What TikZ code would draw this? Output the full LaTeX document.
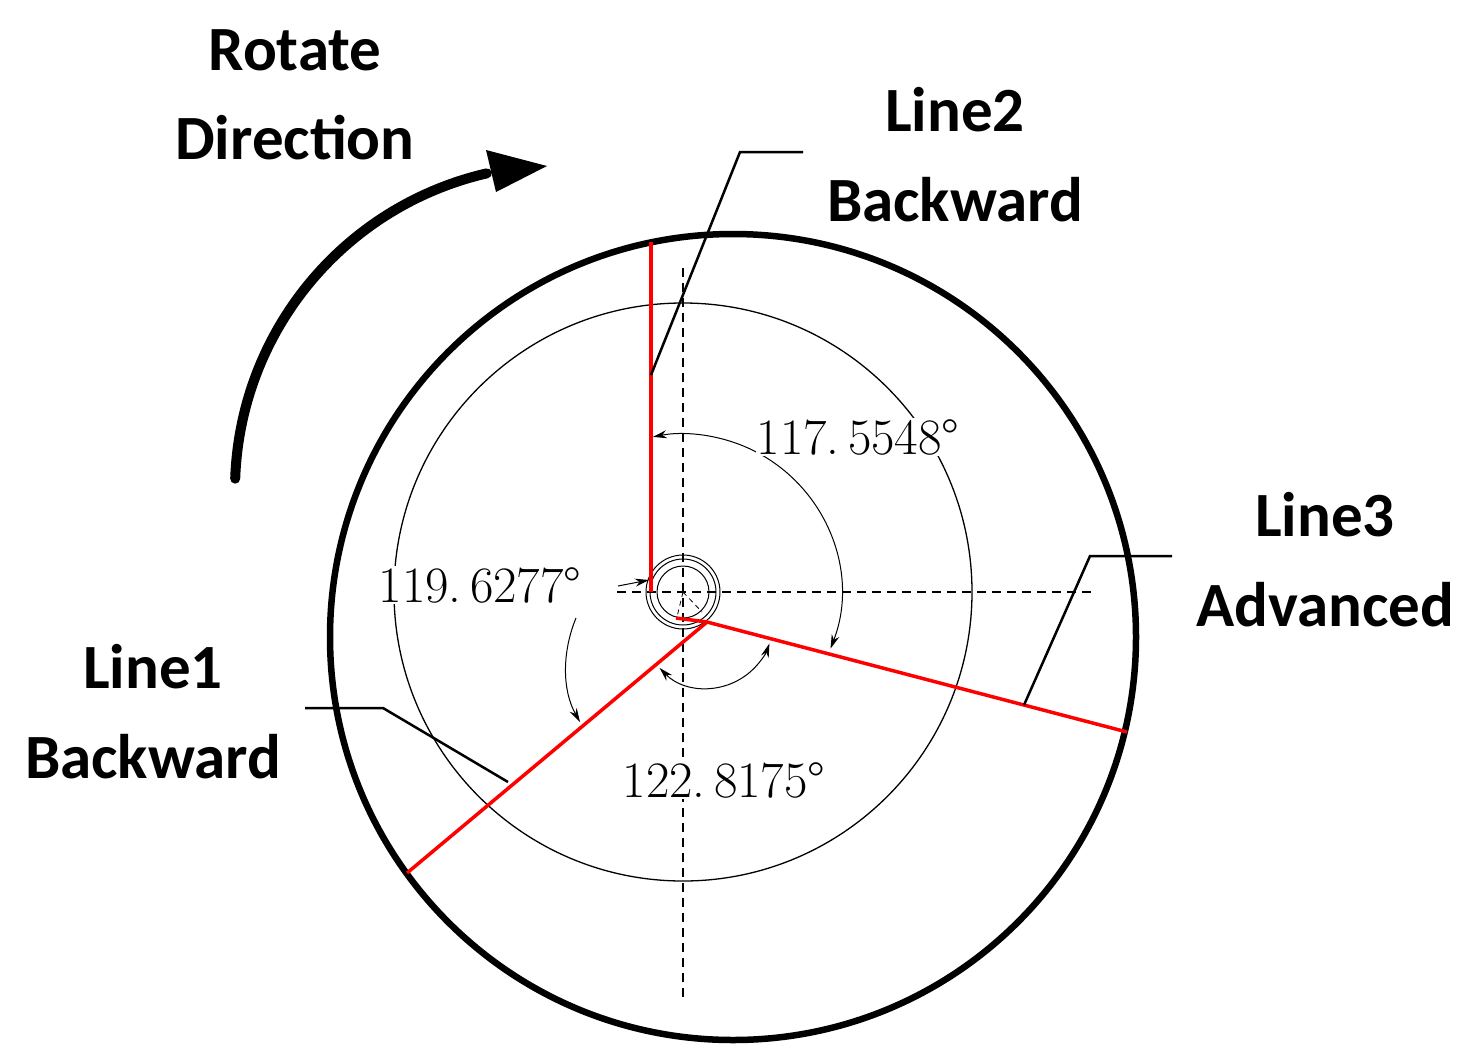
\documentclass[tikz,border=0pt]{standalone}
\usepackage{fontspec}
\setsansfont{Carlito}
\usetikzlibrary{arrows.meta}
\begin{document}
\begin{tikzpicture}[x=1pt,y=-1pt,
  lbl/.style={font=\sffamily\bfseries\fontsize{63}{66}\selectfont,inner sep=0pt},
  ang/.style={font=\fontsize{51}{54}\selectfont,inner sep=1pt,fill=white},
  redl/.style={red,line width=3.5pt},
  lead/.style={black,line width=2.5pt},
  dim/.style={black,line width=1pt,-{Stealth[length=14pt,width=8pt]}},
  dimb/.style={black,line width=1pt,{Stealth[length=14pt,width=8pt]}-{Stealth[length=14pt,width=8pt]}},
  dsh/.style={black,line width=1.3pt,dash pattern=on 9pt off 6pt}]
\useasboundingbox (0,0) rectangle (1474,1063);
\coordinate (C) at (733,637);
\coordinate (O) at (683,592);
\coordinate (J) at (707,622);
% circles
\draw[line width=6.5pt] (C) circle[radius=403];
\draw[line width=1.3pt] (O) circle[radius=289];
\foreach \r in {37,33,26} \draw[line width=1pt] (O) circle[radius=\r];
% dashed center lines
\draw[dsh] (617,592) -- (1093,592);
\draw[dsh] (683,268) -- (683,1000);
\draw[black,line width=0.8pt,dash pattern=on 5pt off 4pt] (O) -- (677,617) (O) -- (702,612);
% red lines
\coordinate (L2a) at (651,242); \coordinate (L2b) at (651,592);
\coordinate (L3b) at (1127,732);
\coordinate (L1b) at (407,873);
\coordinate (S) at (676,618);
\draw[black,line width=1pt] (J) -- (L3b) (J) -- (L1b);
\draw[redl] (L2a) -- (L2b);
\draw[redl] (S) -- (J) -- (L3b);
\draw[redl] (J) -- (L1b);
% leaders
\coordinate (P2) at (651,375); \coordinate (Q2) at (740,152); \coordinate (R2) at (803,152);
\draw[lead] (P2) -- (Q2) -- (R2);
\coordinate (P3) at (1024,705); \coordinate (Q3) at (1090,556); \coordinate (R3) at (1172,556);
\draw[lead] (P3) -- (Q3) -- (R3);
\coordinate (P1) at (508,782); \coordinate (Q1) at (383,708); \coordinate (R1) at (305,708);
\draw[lead] (P1) -- (Q1) -- (R1);
% angle dimensions
\coordinate (A1) at (576,618); \coordinate (A2) at (580,722);
\draw[dimb] ([shift={(21:158)}]O) arc[start angle=21,end angle=-101,radius=158];
\draw[dim] (A1) .. controls (562,652) and (562,690) .. (A2);
\draw[dim] (618,586) -- (649,580);
\draw[dimb] ([shift={(-224:66)}]J) arc[start angle=-224,end angle=-341,radius=66];
\node[ang] (a1) at (858,437) {117.\,5548°};
\node[ang] (a2) at (480,585) {119.\,6277°};
\node[ang] (a3) at (724,780) {122.\,8175°};
% rotate arrow
\coordinate (RC) at (560,490);
\draw[line width=10pt,line cap=round] ([shift={(-178:325)}]RC) arc[start angle=-178,end angle=-103,radius=325];
\fill (547,166) -- (486,150) -- (496,192) -- cycle;
% labels
\node[lbl] (t1) at (295,50) {Rotate};
\node[lbl] (t2) at (295,138) {Direction};
\node[lbl] (t3) at (955,110) {Line2};
\node[lbl] (t4) at (955,200) {Backward};
\node[lbl] (t5) at (1325,515) {Line3};
\node[lbl] (t6) at (1325,605) {Advanced};
\node[lbl] (t7) at (153,667) {Line1};
\node[lbl] (t8) at (153,757) {Backward};
\end{tikzpicture}
\end{document}
